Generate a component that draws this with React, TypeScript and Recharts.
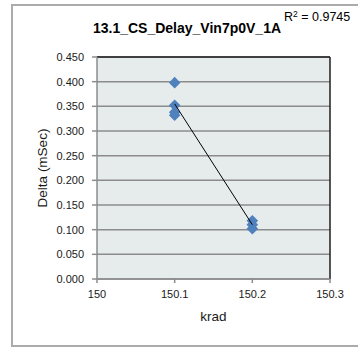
import React from 'react';
import {
  ScatterChart,
  Scatter,
  XAxis,
  YAxis,
  CartesianGrid,
  ReferenceLine,
  Label,
} from 'recharts';

const chartTitle = '13.1_CS_Delay_Vin7p0V_1A';
const rSquaredText = '0.9745';
const xAxisTitle = 'krad';
const yAxisTitle = 'Delta (mSec)';

const kradValues = [150.1, 150.1, 150.1, 150.1, 150.2, 150.2, 150.2];
const deltaValues = [0.398, 0.352, 0.338, 0.332, 0.118, 0.11, 0.102];

const xTicks = [150, 150.1, 150.2, 150.3];
const yTicks = [0, 0.05, 0.1, 0.15, 0.2, 0.25, 0.3, 0.35, 0.4, 0.45];

const points = kradValues.map((x, i) => ({ x, y: deltaValues[i] }));

// linear least-squares trend line over the data range
const n = kradValues.length;
const meanX = kradValues.reduce((a, b) => a + b, 0) / n;
const meanY = deltaValues.reduce((a, b) => a + b, 0) / n;
let sxy = 0;
let sxx = 0;
for (let i = 0; i < n; i++) {
  sxy += (kradValues[i] - meanX) * (deltaValues[i] - meanY);
  sxx += (kradValues[i] - meanX) ** 2;
}
const slope = sxy / sxx;
const intercept = meanY - slope * meanX;
const minX = Math.min(...kradValues);
const maxX = Math.max(...kradValues);
const trend = [
  { x: minX, y: intercept + slope * minX },
  { x: maxX, y: intercept + slope * maxX },
];

const FONT = '"Liberation Sans", Arial, sans-serif';

const Diamond = (props: any) => {
  const { cx, cy } = props;
  if (cx == null || cy == null) return null;
  const r = 5.8;
  return (
    <polygon
      points={`${cx},${cy - r} ${cx + r},${cy} ${cx},${cy + r} ${cx - r},${cy}`}
      fill="#4F81BD"
    />
  );
};

const NoShape = () => <g />;

const YLabel = (props: any) => {
  const { viewBox } = props;
  const cy = viewBox.y + viewBox.height / 2;
  const cx = 42;
  return (
    <text
      x={cx}
      y={cy}
      transform={`rotate(-90, ${cx}, ${cy})`}
      textAnchor="middle"
      dominantBaseline="central"
      fontFamily={FONT}
      fontSize={13.5}
      fill="#1A1A1A"
    >
      {yAxisTitle}
    </text>
  );
};

export default function App() {
  return (
    <div style={{ position: 'absolute', left: 0, top: 0, width: 358, height: 348, overflow: 'hidden', background: '#fff' }}>
      <div
        style={{
          position: 'absolute',
          left: 11,
          top: 4,
          width: 360,
          height: 343,
          boxSizing: 'border-box',
          border: '2px solid #ABABAB',
        }}
      />
      <div style={{ position: 'absolute', left: 0, top: 0 }}>
        <ScatterChart
          width={358}
          height={348}
          margin={{ top: 57, right: 28, bottom: 0, left: 0 }}
        >
          <CartesianGrid
            vertical={false}
            stroke="#8C8C8C"
            strokeWidth={1.5}
            fill="#E6ECEC"
            fillOpacity={1}
          />
          <XAxis
            type="number"
            dataKey="x"
            domain={[150, 150.3]}
            ticks={xTicks}
            tickFormatter={(v: number) => String(v)}
            height={69}
            stroke="#8C8C8C"
            strokeWidth={1.5}
            tickSize={4}
            tickMargin={7}
            tick={{ fontFamily: FONT, fontSize: 11, fill: '#1A1A1A' }}
            allowDataOverflow
          >
            <Label
              value={xAxisTitle}
              position="insideBottom"
              offset={27}
              style={{ fontFamily: FONT, fontSize: 13.5, fill: '#1A1A1A' }}
            />
          </XAxis>
          <YAxis
            type="number"
            dataKey="y"
            domain={[0, 0.45]}
            ticks={yTicks}
            tickFormatter={(v: number) => v.toFixed(3)}
            width={97}
            stroke="#8C8C8C"
            strokeWidth={1.5}
            tickSize={5}
            tickMargin={8}
            tick={{ fontFamily: FONT, fontSize: 11, fill: '#1A1A1A' }}
            allowDataOverflow
          >
            <Label content={<YLabel />} />
          </YAxis>
          <ReferenceLine y={0.45} stroke="#1E1E1E" strokeWidth={1.5} />
          <ReferenceLine x={150.3} stroke="#1E1E1E" strokeWidth={1.5} />
          <Scatter data={points} shape={<Diamond />} isAnimationActive={false} />
          <Scatter
            data={trend}
            line={{ stroke: '#000000', strokeWidth: 1 }}
            shape={<NoShape />}
            isAnimationActive={false}
          />
        </ScatterChart>
      </div>
      <svg width={358} height={348} style={{ position: 'absolute', left: 0, top: 0, pointerEvents: 'none' }}>
        <text
          x={187}
          y={33}
          textAnchor="middle"
          fontFamily={FONT}
          fontWeight="bold"
          fontSize={14}
          fill="#000"
        >
          {chartTitle}
        </text>
        <text x={284} y={21} fontFamily={FONT} fontSize={12.5} fill="#000">
          R
          <tspan fontSize={8.5} dy={-4.5}>2</tspan>
          <tspan dy={4.5}>{' = ' + rSquaredText}</tspan>
        </text>
      </svg>
    </div>
  );
}
